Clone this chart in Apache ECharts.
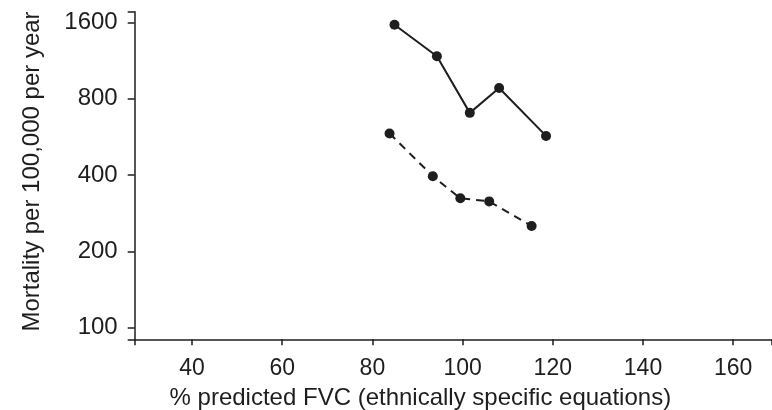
<!DOCTYPE html>
<html><head><meta charset="utf-8">
<script src="https://cdn.jsdelivr.net/npm/echarts@6/dist/echarts.min.js"></script>
<style>html,body{margin:0;padding:0;background:#fff}#c{width:772px;height:410px}</style>
</head><body><div id="c"></div>
<script>
const solidX = [84.9, 94.3, 101.6, 108.1, 118.5];
const solidY = [1567, 1178, 704, 883, 571];
const dashedX = [83.8, 93.4, 99.5, 105.9, 115.3];
const dashedY = [584, 396, 324, 315, 252];
const xTicks = [40, 60, 80, 100, 120, 140, 160];
const yTicks = [100, 200, 400, 800, 1600];
const xTitle = '% predicted FVC (ethnically specific equations)';
const yTitle = 'Mortality per 100,000 per year';

const X_MIN = 27.3, X_MAX = 168.6, Y_MIN = 90, Y_MAX = 1765;
const ink = '#1e1e1e';
const font = 'Liberation Sans, Arial, Helvetica, sans-serif';
// y is plotted on a base-2 logarithmic scale (doublings above 100)
const L = v => Math.log2(v / 100);
const chart = echarts.init(document.getElementById('c'), null, {renderer: 'canvas'});
const pairs = (xs, ys) => xs.map((x, i) => [x, L(ys[i])]);
chart.setOption({
  animation: false,
  backgroundColor: '#fff',
  grid: {left: 134.7, right: 0, top: 11.7, bottom: 70.7, containLabel: false, outerBoundsMode: 'none'},
  xAxis: {
    type: 'value', min: X_MIN, max: X_MAX, splitNumber: 7,
    name: xTitle, nameLocation: 'middle', nameGap: 47,
    nameTextStyle: {fontFamily: font, fontSize: 24, color: ink, padding: [0, 66, 0, 0]},
    axisLine: {show: true, onZero: false, lineStyle: {color: ink, width: 1.5}},
    axisTick: {show: true, length: 6, lineStyle: {color: ink, width: 1.5}},
    axisLabel: {fontFamily: font, fontSize: 23, color: ink, margin: 18, customValues: xTicks},
    splitLine: {show: false}
  },
  yAxis: {
    type: 'value', min: L(Y_MIN), max: L(Y_MAX), splitNumber: 4,
    name: yTitle, nameLocation: 'middle', nameGap: 90,
    nameTextStyle: {fontFamily: font, fontSize: 24, color: ink, padding: [0, 0, 0, 8]},
    axisLine: {show: true, onZero: false, lineStyle: {color: ink, width: 1.5}},
    axisTick: {show: true, length: 7, lineStyle: {color: ink, width: 1.5}},
    axisLabel: {fontFamily: font, fontSize: 24, color: ink, margin: 17, customValues: yTicks.map(L),
      formatter: v => String(Math.round(100 * Math.pow(2, v)))},
    splitLine: {show: false}
  },
  series: [
    {type: 'line', data: pairs(solidX, solidY), symbol: 'circle', symbolSize: 10,
     itemStyle: {color: ink}, lineStyle: {color: ink, width: 2, type: 'solid'}},
    {type: 'line', data: pairs(dashedX, dashedY), symbol: 'circle', symbolSize: 10,
     itemStyle: {color: ink}, lineStyle: {color: ink, width: 2, type: [8, 6]}}
  ]
});
</script></body></html>
